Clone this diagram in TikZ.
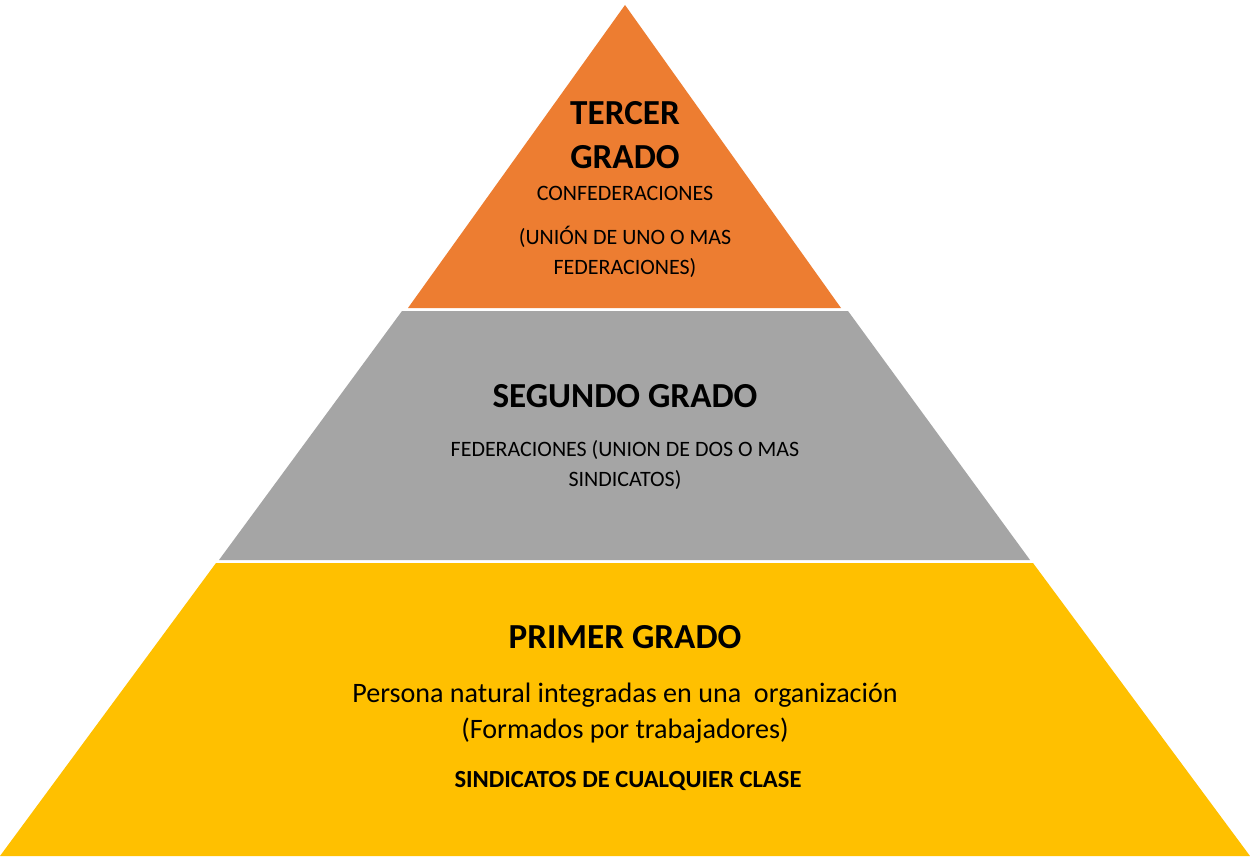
\documentclass[tikz,border=0pt]{standalone}
\usepackage{fontspec}
\setmainfont{Carlito}
\begin{document}
\begin{tikzpicture}[x=0.02cm,y=-0.02cm,
  lbl/.style={align=center,inner sep=0pt,text=black},
  big/.style={lbl,font=\fontsize{20}{22}\selectfont\bfseries},
  sm/.style={lbl,font=\fontsize{12.5}{17}\selectfont},
  mid/.style={lbl,font=\fontsize{16}{20.5}\selectfont},
  bsm/.style={lbl,font=\fontsize{14}{17}\selectfont\bfseries}]
\definecolor{corange}{HTML}{ED7D31}
\definecolor{cgray}{HTML}{A5A5A5}
\definecolor{cyellow}{HTML}{FFC000}
\useasboundingbox[fill=white] (0,0) rectangle (1250,858);
\fill[corange] (625,5) -- (841,308) -- (408,308) -- cycle;
\fill[cgray] (848,311) -- (1030,560) -- (219,560) -- (402,311) -- cycle;
\fill[cyellow] (1033,563) -- (1250,856) -- (0,856) -- (216,563) -- cycle;
\node[big] (t1) at (625,113) {TERCER};
\node[big] (t2) at (625,157) {GRADO};
\node[sm] (t3) at (625,193) {CONFEDERACIONES};
\node[sm] (t4) at (625,252) {(UNIÓN DE UNO O MAS\\FEDERACIONES)};
\node[big] (s1) at (625,396) {SEGUNDO GRADO};
\node[sm] (s2) at (625,465) {FEDERACIONES (UNION DE DOS O MAS\\SINDICATOS)};
\node[big] (p1) at (625,637) {PRIMER GRADO};
\node[mid] (p2) at (625,713) {Persona natural integradas en una\ \ organización\\(Formados por trabajadores)};
\node[bsm] (p3) at (628,781) {SINDICATOS DE CUALQUIER CLASE};
\end{tikzpicture}
\end{document}
